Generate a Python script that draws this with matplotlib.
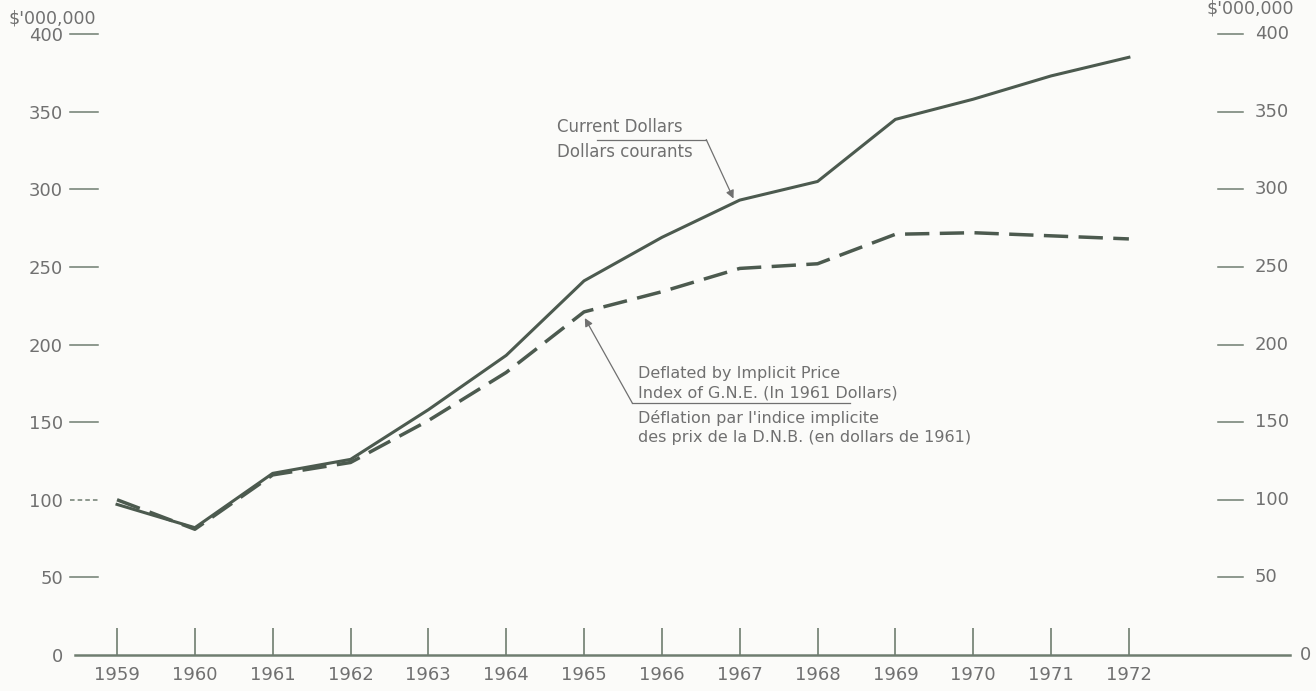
import numpy as np
import matplotlib
matplotlib.use('Agg')
import matplotlib.pyplot as plt

# data ($'000,000)
years = np.arange(1959, 1973)
current_dollars = [97, 82, 117, 126, 158, 193, 241, 269, 293, 305, 345, 358, 373, 385]
deflated_dollars = [100, 81, 116, 124, 151, 182, 221, 234, 249, 252, 271, 272, 270, 268]
y_ticks = [0, 50, 100, 150, 200, 250, 300, 350, 400]

ink = '#4c5a4f'
axis_col = '#6f7d70'
grey_text = '#707070'
paper = '#fbfbf9'

fig = plt.figure(figsize=(13.16, 6.91), dpi=100, facecolor=paper)
ax = fig.add_axes([75/1316, 36/691, 1215/1316, 621/691])
ax.set_facecolor(paper)
ax.set_xlim(1958.46, 1974.07)
ax.set_ylim(0, 400)

# the two series
ax.plot(years, current_dollars, color=ink, lw=2.2, clip_on=False)
ax.plot(years, deflated_dollars, color=ink, lw=2.5, dashes=(7, 3), clip_on=False)

for side in ['top', 'right', 'left']:
    ax.spines[side].set_visible(False)
ax.spines['bottom'].set_color(axis_col)
ax.spines['bottom'].set_linewidth(1.8)

# year ticks stand up from the baseline
ax.set_xticks(years)
ax.tick_params(axis='x', direction='in', length=19.5, width=1.2, color=axis_col,
               pad=8, labelsize=13, labelcolor=grey_text)

# left scale: number then a short dash
ax.set_yticks(y_ticks)
ax.tick_params(axis='y', length=0, pad=8.6, labelsize=13, labelcolor=grey_text)
ytrans = ax.get_yaxis_transform()
for v in y_ticks[1:]:
    ax.plot([-0.004, 0.019], [v, v], transform=ytrans, color=axis_col, lw=1.1,
            ls='--' if v == 100 else '-', dashes=(3, 2) if v == 100 else (None, None),
            clip_on=False)

# right scale: dash then number
for v in y_ticks:
    if v == 0:
        ax.text(1.008, v, str(v), transform=ytrans, ha='left', va='center',
                fontsize=13, color=grey_text)
        continue
    ax.plot([0.9407, 0.9613], [v, v], transform=ytrans, color=axis_col, lw=1.1,
            clip_on=False)
    ax.text(0.971, v, str(v), transform=ytrans, ha='left', va='center',
            fontsize=13, color=grey_text)

fig.text(8/1316, 1 - 18/691, "$'000,000", ha='left', va='center', fontsize=12.5, color=grey_text)
fig.text(1207/1316, 1 - 8/691, "$'000,000", ha='left', va='center', fontsize=12.5, color=grey_text)

# labels with leader arrows
lead = dict(color='#707070', lw=0.9)
ax.text(1964.65, 340, 'Current Dollars', fontsize=12, color=grey_text, va='center')
ax.text(1964.65, 324, 'Dollars courants', fontsize=12, color=grey_text, va='center')
ax.plot([1965.17, 1966.57], [332, 332], **lead)
ax.annotate('', xy=(1966.92, 294), xytext=(1966.57, 332),
            arrowprops=dict(arrowstyle='-|>', color='#707070', lw=0.9,
                            shrinkA=0, shrinkB=0, mutation_scale=12))

defl_lines = ['Deflated by Implicit Price',
              'Index of G.N.E. (In 1961 Dollars)',
              "Déflation par l'indice implicite",
              'des prix de la D.N.B. (en dollars de 1961)']
for txt, yv in zip(defl_lines, [181.6, 168.8, 152.7, 140.4]):
    ax.text(1965.69, yv, txt, fontsize=11.5, color=grey_text, va='center')
ax.plot([1965.62, 1968.42], [162.3, 162.3], **lead)
ax.annotate('', xy=(1965.01, 217), xytext=(1965.62, 162.3),
            arrowprops=dict(arrowstyle='-|>', color='#707070', lw=0.9,
                            shrinkA=0, shrinkB=0, mutation_scale=12))

fig.savefig('out.png', dpi=100, facecolor=paper)
